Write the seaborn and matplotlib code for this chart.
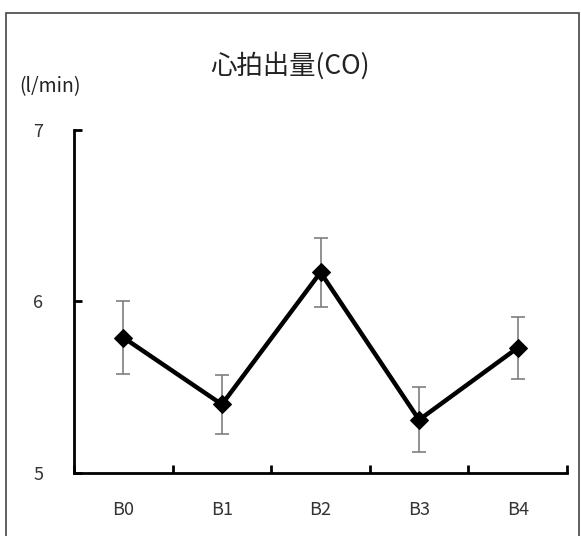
import numpy as np
import matplotlib
matplotlib.use("Agg")
import matplotlib.pyplot as plt
import seaborn as sns
import pandas as pd
from matplotlib.patches import Rectangle

# data
phases = ["B0", "B1", "B2", "B3", "B4"]
co_mean = [5.79, 5.40, 6.17, 5.31, 5.73]
co_err = [0.21, 0.17, 0.20, 0.19, 0.18]
yticks = [5, 6, 7]

sns.set_style("white")
plt.rcParams['font.family'] = ['Noto Sans CJK JP', 'DejaVu Sans']

df = pd.DataFrame({"phase": phases, "co": co_mean, "err": co_err})
xpos = np.arange(len(phases))

fig = plt.figure(figsize=(5.81, 5.36), dpi=100)
ax = fig.add_axes([0.1274, 0.1175, 0.849, 0.64])

# error bars (gray, thin, capped)
ax.errorbar(xpos, df["co"], yerr=df["err"], fmt="none", ecolor="#7f7f7f",
            elinewidth=1.2, capsize=5, capthick=1.2, zorder=1)
sns.lineplot(x=xpos, y=df["co"], ax=ax, color="black", linewidth=3.2,
             marker="D", markersize=9, markeredgecolor="black", zorder=2)

ax.set_xlim(-0.5, len(phases) - 0.497)
ax.set_ylim(5, 7)
ax.set_yticks(yticks)
ax.set_yticklabels([str(t) for t in yticks])
ax.set_xticks(xpos)
ax.set_xticklabels(phases)
ax.set_xticks([i - 0.5 for i in range(len(phases) + 1)], minor=True)
ax.tick_params(axis="x", which="major", bottom=True, length=0, pad=20,
               labelsize=13, labelcolor="#333333")
ax.tick_params(axis="x", which="minor", bottom=True, direction="in", length=6,
               width=2, color="black")
ax.tick_params(axis="y", left=True, direction="in", length=6, width=2, color="black",
               pad=22, labelsize=13, labelcolor="#333333")
ax.set_xlabel("")
ax.set_ylabel("")

for s in ["top", "right"]:
    ax.spines[s].set_visible(False)
for s in ["left", "bottom"]:
    ax.spines[s].set_linewidth(2)
    ax.spines[s].set_color("black")

fig.text(0.5, 0.878, "心拍出量(CO)", ha="center", va="center", fontsize=19, color="#222222")
fig.text(0.033, 0.838, "(l/min)", ha="left", va="center", fontsize=14, color="#222222")

# outer frame
fig.patches.append(Rectangle((6 / 581, -0.02), 573 / 581, 1 - 13 / 536 + 0.02,
                             transform=fig.transFigure, fill=False,
                             edgecolor="#444444", linewidth=1.2))

fig.savefig("out.png", dpi=100)
